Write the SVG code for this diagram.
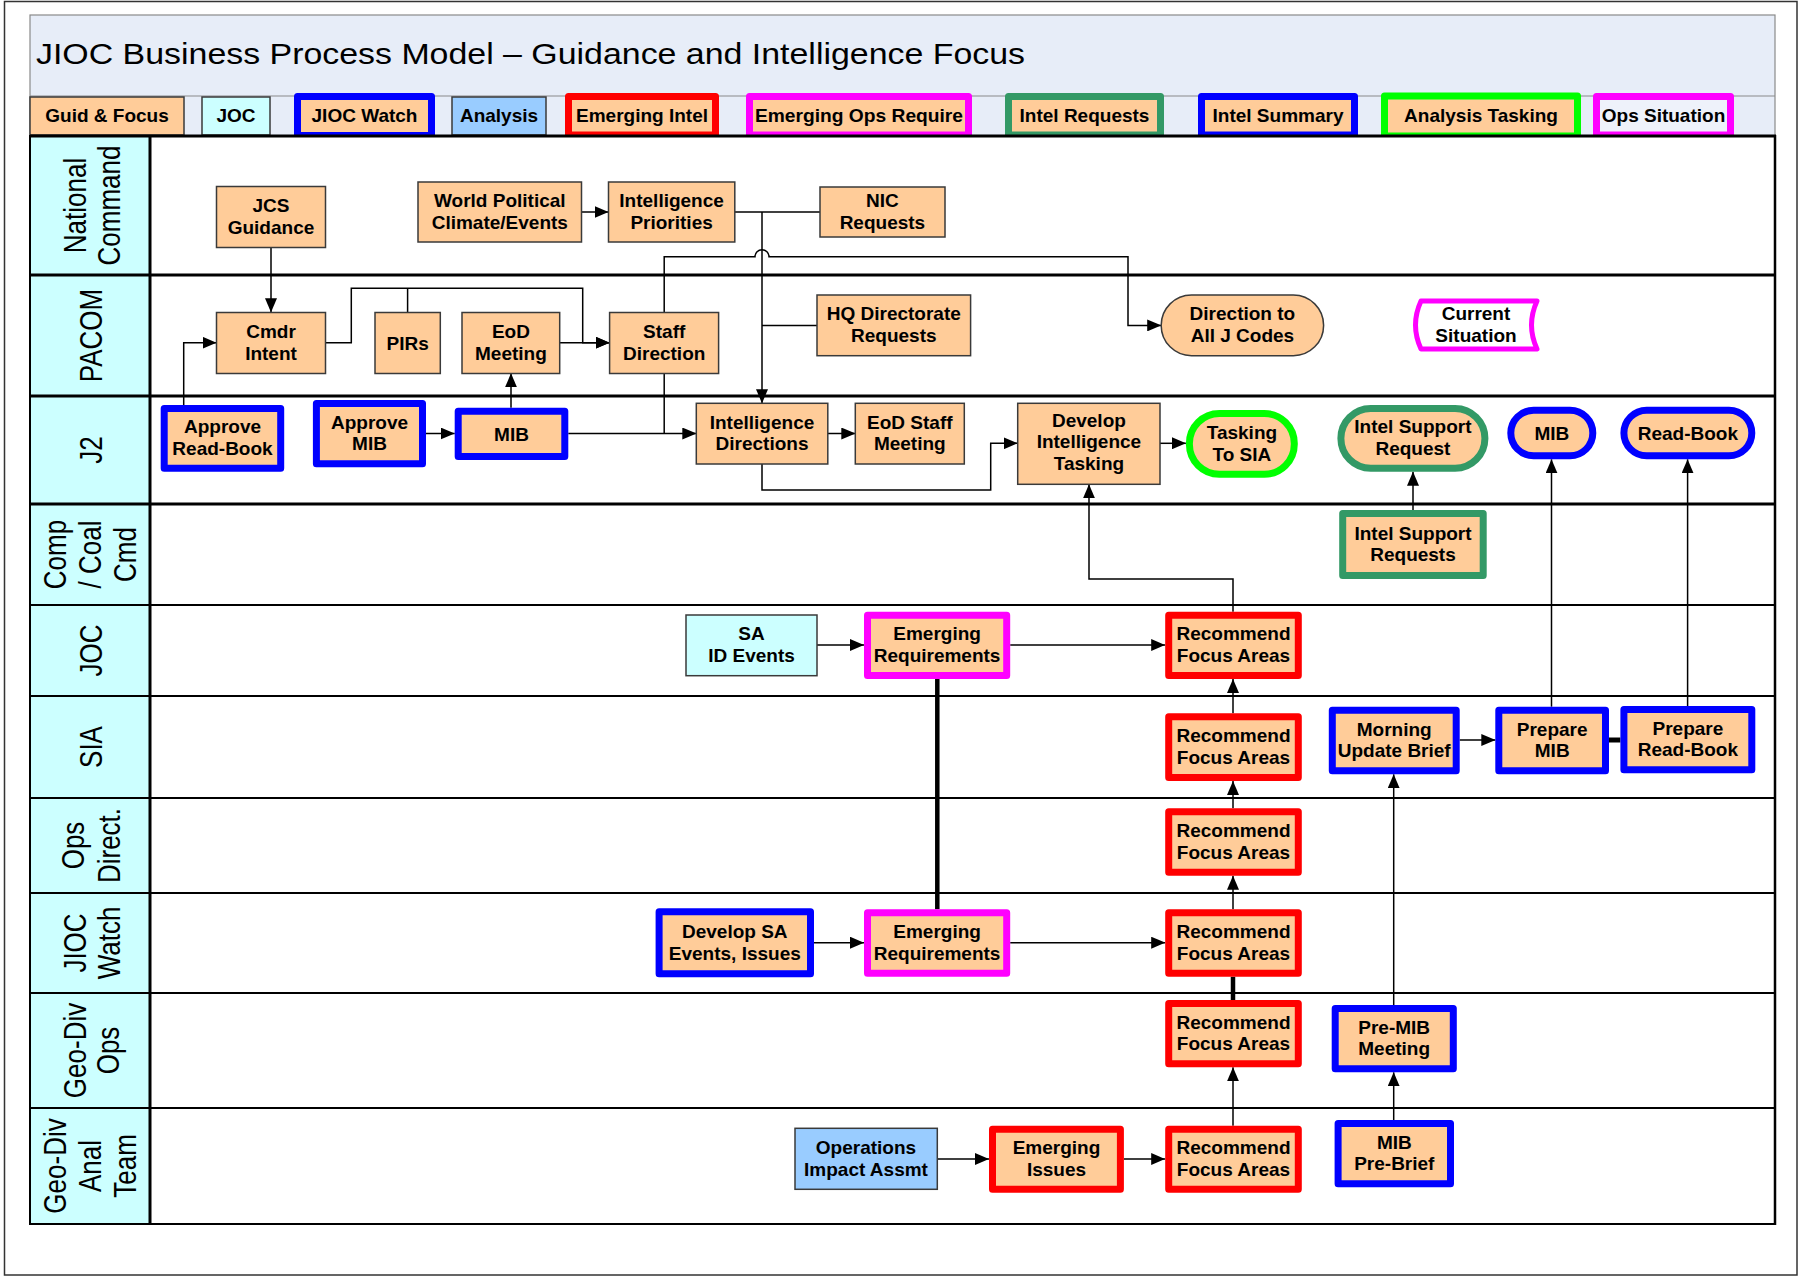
<svg xmlns="http://www.w3.org/2000/svg" width="1803" height="1277" viewBox="0 0 1803 1277">
  <defs>
    <marker id="arr" markerUnits="userSpaceOnUse" markerWidth="14" markerHeight="12" refX="14" refY="6" orient="auto">
      <path d="M0,0 L14,6 L0,12 Z" fill="#000"/>
    </marker>
    <style>
      .t { font-family: "Liberation Sans", Arial, sans-serif; font-weight: bold; font-size: 19px; text-anchor: middle; fill: #000; }
      .title { font-family: "Liberation Sans", Arial, sans-serif; font-size: 29px; fill: #000; }
      .lane { font-family: "Liberation Sans", Arial, sans-serif; font-size: 26px; text-anchor: middle; fill: #000; }
      .thin { fill: #FFCC99; stroke: #3a3a3a; stroke-width: 1.5; }
      .cyan { fill: #CCFFFF; }
      .ltblue { fill: #99CCFF; }
      .thick { fill: #FFCC99; stroke-width: 7; stroke-linejoin: round; }
      .blue { stroke: #0000FF; }
      .red { stroke: #FF0000; }
      .mag { stroke: #FF00FF; }
      .dgreen { stroke: #339966; }
      .bgreen { stroke: #00FF00; }
      .conn path { fill: none; stroke: #000; stroke-width: 1.5; }
      .conn path.a { marker-end: url(#arr); }
      .conn path.heavy { stroke-width: 4.5; }
      .laneline { stroke: #000; }
    </style>
  </defs>

  <!-- page frame -->
  <rect x="4.5" y="1.5" width="1792.5" height="1273.5" fill="#FFFFFF" stroke="#333" stroke-width="1.5"/>

  <!-- title band and legend row -->
  <rect x="30" y="15" width="1745" height="121" fill="#E7EDF8" stroke="#8a8a8a" stroke-width="1.2"/>
  <line x1="30" y1="96" x2="1775" y2="96" stroke="#8a8a8a" stroke-width="1.2"/>
  <text class="title" x="36" y="64" textLength="989" lengthAdjust="spacingAndGlyphs">JIOC Business Process Model – Guidance and Intelligence Focus</text>

  <g id="legend">
    <g id="leg-guid"><rect x="30" y="97" width="154" height="38" class="thin"/><text class="t" x="107" y="121.5">Guid &amp; Focus</text></g>
    <g id="leg-joc"><rect x="202" y="97" width="68" height="38" class="thin cyan"/><text class="t" x="236" y="121.5">JOC</text></g>
    <g id="leg-watch"><rect x="297.5" y="96.5" width="134" height="39" class="thick blue cyan"/><text class="t" x="364.5" y="121.5">JIOC Watch</text></g>
    <g id="leg-analysis"><rect x="452" y="97" width="94" height="38" class="thin ltblue"/><text class="t" x="499" y="121.5">Analysis</text></g>
    <g id="leg-emintel"><rect x="568.5" y="96.5" width="147" height="38.5" class="thick red"/><text class="t" x="642" y="121.5">Emerging Intel</text></g>
    <g id="leg-emops"><rect x="749.5" y="96.5" width="219" height="38.5" class="thick mag"/><text class="t" x="859" y="121.5" textLength="208" lengthAdjust="spacingAndGlyphs">Emerging Ops Require</text></g>
    <g id="leg-intreq"><rect x="1008.5" y="96.5" width="152" height="38.5" class="thick dgreen"/><text class="t" x="1084.5" y="121.5">Intel Requests</text></g>
    <g id="leg-intsum"><rect x="1201.5" y="96.5" width="153" height="38.5" class="thick blue"/><text class="t" x="1278" y="121.5">Intel Summary</text></g>
    <g id="leg-antask"><rect x="1384.5" y="96" width="193" height="40" class="thick bgreen"/><text class="t" x="1481" y="121.5">Analysis Tasking</text></g>
    <g id="leg-opssit"><rect x="1596.5" y="96.5" width="134" height="38.5" class="thick mag" style="fill:#EEF2FA"/><text class="t" x="1663.5" y="121.5">Ops Situation</text></g>
  </g>

  <!-- swimlanes -->
  <g id="lanes">
    <rect x="30" y="136" width="120" height="1088" fill="#CCFFFF"/>
    <rect x="150" y="136" width="1625" height="1088" fill="#FFFFFF"/>
    <g class="laneline">
      <line x1="30" y1="136" x2="1776" y2="136" stroke-width="3"/>
      <line x1="30" y1="275" x2="1776" y2="275" stroke-width="3"/>
      <line x1="30" y1="396" x2="1776" y2="396" stroke-width="3"/>
      <line x1="30" y1="504" x2="1776" y2="504" stroke-width="3"/>
      <line x1="30" y1="605" x2="1776" y2="605" stroke-width="2.2"/>
      <line x1="30" y1="696" x2="1776" y2="696" stroke-width="2.2"/>
      <line x1="30" y1="798" x2="1776" y2="798" stroke-width="2.2"/>
      <line x1="30" y1="893" x2="1776" y2="893" stroke-width="2.2"/>
      <line x1="30" y1="993" x2="1776" y2="993" stroke-width="2.2"/>
      <line x1="30" y1="1108" x2="1776" y2="1108" stroke-width="2.2"/>
      <line x1="30" y1="1224" x2="1776" y2="1224" stroke-width="2.2"/>
      <line x1="30" y1="135" x2="30" y2="1225" stroke-width="2"/>
      <line x1="150" y1="135" x2="150" y2="1225" stroke-width="3"/>
      <line x1="1775" y1="135" x2="1775" y2="1225" stroke-width="2.5"/>
    </g>
    <g id="lane-labels">
      <text class="lane" transform="translate(86,205.5) rotate(-90) scale(1,1.22)">National</text>
      <text class="lane" transform="translate(120,205.5) rotate(-90) scale(1,1.22)">Command</text>
      <text class="lane" transform="translate(102,335.5) rotate(-90) scale(1,1.22)">PACOM</text>
      <text class="lane" transform="translate(102,450) rotate(-90) scale(1,1.22)">J2</text>
      <text class="lane" transform="translate(66,554.5) rotate(-90) scale(1,1.22)">Comp</text>
      <text class="lane" transform="translate(101,554.5) rotate(-90) scale(1,1.22)">/ Coal</text>
      <text class="lane" transform="translate(136,554.5) rotate(-90) scale(1,1.22)">Cmd</text>
      <text class="lane" transform="translate(102,650.5) rotate(-90) scale(1,1.22)">JOC</text>
      <text class="lane" transform="translate(102,747) rotate(-90) scale(1,1.22)">SIA</text>
      <text class="lane" transform="translate(84,845.5) rotate(-90) scale(1,1.22)">Ops</text>
      <text class="lane" transform="translate(120,845.5) rotate(-90) scale(1,1.22)">Direct.</text>
      <text class="lane" transform="translate(86,943) rotate(-90) scale(1,1.22)">JIOC</text>
      <text class="lane" transform="translate(120,943) rotate(-90) scale(1,1.22)">Watch</text>
      <text class="lane" transform="translate(86,1050.5) rotate(-90) scale(1,1.22)">Geo-Div</text>
      <text class="lane" transform="translate(119,1050.5) rotate(-90) scale(1,1.22)">Ops</text>
      <text class="lane" transform="translate(66,1166) rotate(-90) scale(1,1.22)">Geo-Div</text>
      <text class="lane" transform="translate(101,1166) rotate(-90) scale(1,1.22)">Anal</text>
      <text class="lane" transform="translate(136,1166) rotate(-90) scale(1,1.22)">Team</text>
    </g>
  </g>

  <!-- connectors -->
  <g id="connectors" class="conn">
    <path class="a" d="M271,247.3 V312.3"/>
    <path class="a" d="M581.5,212 H608.5"/>
    <path d="M734.8,212 H820"/>
    <path class="a" d="M762,212 V403.3"/>
    <path d="M762,325.5 H817"/>
    <path class="a" d="M664.2,312.3 V256.7 H755 A7,7 0 0 1 769,256.7 H1128 V325.4 H1161.2"/>
    <path d="M664.2,373.3 V433.5"/>
    <path class="a" d="M183.7,405 V342.7 H216.5"/>
    <path class="a" d="M325.5,342.7 H351.3 V288.3 H582.7 V342.7 H609.6"/>
    <path d="M407.6,312.3 V288.3"/>
    <path class="a" d="M559.7,342.7 H609.6"/>
    <path class="a" d="M511,407.7 V373.3"/>
    <path class="a" d="M426,433.5 H454.7"/>
    <path class="a" d="M568.3,433.5 H696.3"/>
    <path class="a" d="M827.8,433.5 H855.3"/>
    <path class="a" d="M762,464 V490 H990.7 V443.3 H1017.7"/>
    <path class="a" d="M1160,443.3 H1185.9"/>
    <path class="a" d="M1413,510 V471.7"/>
    <path class="a" d="M1551.5,706.7 V459.3"/>
    <path class="a" d="M1687.6,706 V459.3"/>
    <path class="a" d="M1233,611.7 V579 H1089 V484.3"/>
    <path class="a" d="M817,645 H864"/>
    <path class="a" d="M1010.2,645 H1165.2"/>
    <path class="heavy" d="M937.3,679 V909.3"/>
    <path class="a" d="M1233,713.3 V679"/>
    <path class="a" d="M1459.7,740 H1495.3"/>
    <path class="heavy" d="M1609,740 H1620.4" style="stroke-width:5"/>
    <path class="a" d="M1393.7,1005 V774.3"/>
    <path class="a" d="M1233,808.3 V781"/>
    <path class="a" d="M814,942.7 H864"/>
    <path class="a" d="M1010.2,942.7 H1165.2"/>
    <path class="a" d="M1233,909.3 V875.7"/>
    <path class="heavy" d="M1233,976.7 V1000"/>
    <path class="a" d="M1233,1125.7 V1067.3"/>
    <path class="a" d="M937.3,1159 H989"/>
    <path class="a" d="M1123.9,1159 H1165.2"/>
    <path class="a" d="M1393.7,1120 V1072.3"/>
  </g>

  <!-- National Command -->
  <g id="jcs-guidance"><rect x="216.5" y="186.5" width="109" height="61" class="thin"/><text class="t" x="271" y="212">JCS</text><text class="t" x="271" y="233.7">Guidance</text></g>
  <g id="world-political"><rect x="418" y="182" width="163.5" height="60" class="thin"/><text class="t" x="499.8" y="207">World Political</text><text class="t" x="499.8" y="228.7">Climate/Events</text></g>
  <g id="intel-priorities"><rect x="608.5" y="182" width="126.3" height="60" class="thin"/><text class="t" x="671.6" y="207">Intelligence</text><text class="t" x="671.6" y="228.7">Priorities</text></g>
  <g id="nic-requests"><rect x="820" y="187" width="125" height="50" class="thin"/><text class="t" x="882.4" y="207">NIC</text><text class="t" x="882.4" y="228.7">Requests</text></g>

  <!-- PACOM -->
  <g id="cmdr-intent"><rect x="216.5" y="312.5" width="109" height="61" class="thin"/><text class="t" x="271" y="338">Cmdr</text><text class="t" x="271" y="359.7">Intent</text></g>
  <g id="pirs"><rect x="375" y="312.5" width="65.3" height="61" class="thin"/><text class="t" x="407.6" y="349.7">PIRs</text></g>
  <g id="eod-meeting"><rect x="462" y="312.5" width="97.7" height="61" class="thin"/><text class="t" x="510.9" y="338">EoD</text><text class="t" x="510.9" y="359.7">Meeting</text></g>
  <g id="staff-direction"><rect x="609.6" y="312.5" width="109" height="61" class="thin"/><text class="t" x="664.2" y="338">Staff</text><text class="t" x="664.2" y="359.7">Direction</text></g>
  <g id="hq-directorate"><rect x="817" y="295" width="153.6" height="60.7" class="thin"/><text class="t" x="893.8" y="320.4">HQ Directorate</text><text class="t" x="893.8" y="342.1">Requests</text></g>
  <g id="direction-j-codes"><rect x="1161.2" y="295" width="162.4" height="60.7" rx="30.3" class="thin"/><text class="t" x="1242.4" y="320.4">Direction to</text><text class="t" x="1242.4" y="342.1">All J Codes</text></g>
  <g id="current-situation"><path d="M1421,301 H1537 Q1526,325 1537,349 H1421 Q1410,325 1421,301 Z" fill="#FFFFFF" stroke="#FF00FF" stroke-width="5" stroke-linejoin="round"/><text class="t" x="1476" y="320">Current</text><text class="t" x="1476" y="341.7">Situation</text></g>

  <!-- J2 -->
  <g id="approve-readbook"><rect x="164.2" y="408.5" width="116.5" height="59.7" class="thick blue"/><text class="t" x="222.5" y="433.3">Approve</text><text class="t" x="222.5" y="455">Read-Book</text></g>
  <g id="approve-mib"><rect x="316.4" y="403.5" width="106.1" height="60.3" class="thick blue"/><text class="t" x="369.5" y="428.7">Approve</text><text class="t" x="369.5" y="450.4">MIB</text></g>
  <g id="mib-j2"><rect x="458.2" y="411.2" width="106.6" height="45.3" class="thick blue"/><text class="t" x="511.5" y="440.5">MIB</text></g>
  <g id="intel-directions"><rect x="696.3" y="403.3" width="131.5" height="60.7" class="thin"/><text class="t" x="762" y="428.7">Intelligence</text><text class="t" x="762" y="450.4">Directions</text></g>
  <g id="eod-staff"><rect x="855.3" y="403.3" width="109" height="60.7" class="thin"/><text class="t" x="909.8" y="428.7">EoD Staff</text><text class="t" x="909.8" y="450.4">Meeting</text></g>
  <g id="develop-tasking"><rect x="1017.7" y="403.3" width="142.3" height="81" class="thin"/><text class="t" x="1088.9" y="426.8">Develop</text><text class="t" x="1088.9" y="448.3">Intelligence</text><text class="t" x="1088.9" y="469.8">Tasking</text></g>
  <g id="tasking-sia"><rect x="1189.4" y="413.5" width="104.9" height="60.7" rx="30" class="thick bgreen"/><text class="t" x="1241.9" y="438.9">Tasking</text><text class="t" x="1241.9" y="460.6">To SIA</text></g>
  <g id="intel-support-request"><rect x="1340.9" y="408.5" width="144" height="59.7" rx="29.8" class="thick dgreen"/><text class="t" x="1412.9" y="433.3">Intel Support</text><text class="t" x="1412.9" y="455">Request</text></g>
  <g id="mib-out"><rect x="1510.8" y="410.2" width="82" height="45.6" rx="22.8" class="thick blue"/><text class="t" x="1551.8" y="439.7">MIB</text></g>
  <g id="readbook-out"><rect x="1623.9" y="410.2" width="127.9" height="45.6" rx="22.8" class="thick blue"/><text class="t" x="1687.9" y="439.7">Read-Book</text></g>

  <!-- Comp / Coal Cmd -->
  <g id="intel-support-requests"><rect x="1342.7" y="513.5" width="140.5" height="62" class="thick dgreen"/><text class="t" x="1413" y="539.5">Intel Support</text><text class="t" x="1413" y="561.2">Requests</text></g>

  <!-- JOC -->
  <g id="sa-id-events"><rect x="686" y="615" width="131" height="60.7" class="thin cyan"/><text class="t" x="751.5" y="640.4">SA</text><text class="t" x="751.5" y="662.1">ID Events</text></g>
  <g id="emerging-req-joc"><rect x="867.5" y="615.2" width="139.2" height="60.3" class="thick mag"/><text class="t" x="937.1" y="640.4">Emerging</text><text class="t" x="937.1" y="662.1">Requirements</text></g>
  <g id="rfa-joc"><rect x="1168.7" y="615.2" width="129.6" height="60.3" class="thick red"/><text class="t" x="1233.5" y="640.4">Recommend</text><text class="t" x="1233.5" y="662.1">Focus Areas</text></g>

  <!-- SIA -->
  <g id="rfa-sia"><rect x="1168.7" y="716.8" width="129.6" height="60.7" class="thick red"/><text class="t" x="1233.5" y="742.2">Recommend</text><text class="t" x="1233.5" y="763.9">Focus Areas</text></g>
  <g id="morning-brief"><rect x="1332.3" y="710.2" width="123.9" height="60.6" class="thick blue"/><text class="t" x="1394.2" y="735.5">Morning</text><text class="t" x="1394.2" y="757.2">Update Brief</text></g>
  <g id="prepare-mib"><rect x="1498.8" y="710.2" width="106.7" height="60.6" class="thick blue"/><text class="t" x="1552.2" y="735.5">Prepare</text><text class="t" x="1552.2" y="757.2">MIB</text></g>
  <g id="prepare-readbook"><rect x="1623.9" y="709.5" width="127.9" height="60.3" class="thick blue"/><text class="t" x="1687.9" y="734.7">Prepare</text><text class="t" x="1687.9" y="756.4">Read-Book</text></g>

  <!-- Ops Direct. -->
  <g id="rfa-ops"><rect x="1168.7" y="811.8" width="129.6" height="60.4" class="thick red"/><text class="t" x="1233.5" y="837">Recommend</text><text class="t" x="1233.5" y="858.7">Focus Areas</text></g>

  <!-- JIOC Watch -->
  <g id="develop-sa"><rect x="659.1" y="911.8" width="151.4" height="62" class="thick blue cyan"/><text class="t" x="734.8" y="937.8">Develop SA</text><text class="t" x="734.8" y="959.5">Events, Issues</text></g>
  <g id="emerging-req-watch"><rect x="867.5" y="912.8" width="139.2" height="60.4" class="thick mag"/><text class="t" x="937.1" y="938">Emerging</text><text class="t" x="937.1" y="959.7">Requirements</text></g>
  <g id="rfa-watch"><rect x="1168.7" y="912.8" width="129.6" height="60.4" class="thick red"/><text class="t" x="1233.5" y="938">Recommend</text><text class="t" x="1233.5" y="959.7">Focus Areas</text></g>

  <!-- Geo-Div Ops -->
  <g id="rfa-geo-ops"><rect x="1168.7" y="1003.5" width="129.6" height="60.3" class="thick red"/><text class="t" x="1233.5" y="1028.7">Recommend</text><text class="t" x="1233.5" y="1050.4">Focus Areas</text></g>
  <g id="pre-mib"><rect x="1335.2" y="1008.5" width="118.1" height="60.3" class="thick blue"/><text class="t" x="1394.2" y="1033.7">Pre-MIB</text><text class="t" x="1394.2" y="1055.4">Meeting</text></g>

  <!-- Geo-Div Anal Team -->
  <g id="ops-impact"><rect x="795" y="1128.3" width="142.3" height="61" class="thin ltblue"/><text class="t" x="866" y="1153.8">Operations</text><text class="t" x="866" y="1175.5">Impact Assmt</text></g>
  <g id="emerging-issues"><rect x="992.5" y="1129.2" width="127.9" height="60" class="thick red"/><text class="t" x="1056.5" y="1154.2">Emerging</text><text class="t" x="1056.5" y="1175.9">Issues</text></g>
  <g id="rfa-anal"><rect x="1168.7" y="1129.2" width="129.6" height="60" class="thick red"/><text class="t" x="1233.5" y="1154.2">Recommend</text><text class="t" x="1233.5" y="1175.9">Focus Areas</text></g>
  <g id="mib-prebrief"><rect x="1338.1" y="1123.5" width="112.4" height="60.3" class="thick blue"/><text class="t" x="1394.3" y="1148.7">MIB</text><text class="t" x="1394.3" y="1170.4">Pre-Brief</text></g>
</svg>
